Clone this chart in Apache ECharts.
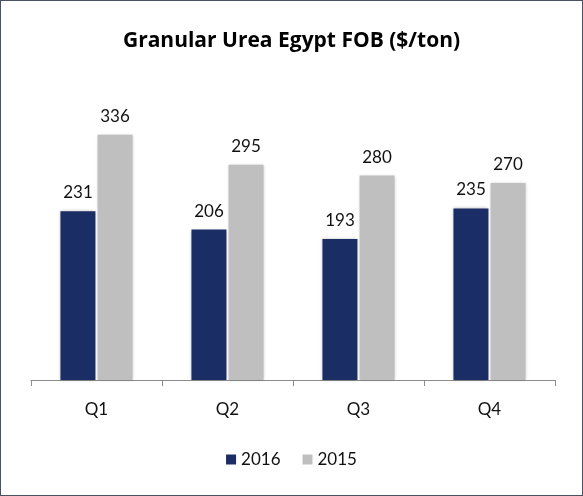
<!DOCTYPE html>
<html>
<head>
<meta charset="utf-8">
<script src="https://cdn.jsdelivr.net/npm/echarts@6/dist/echarts.min.js"></script>
<style>
	html, body { margin: 0; padding: 0; background: #fff; }
	#echart { width: 581px; height: 494px; border: 1px solid #4b5262; }
</style>
</head>
<body>
<div id="echart"></div>
<script>
let quarters = ['Q1', 'Q2', 'Q3', 'Q4'];
let values2016 = [231, 206, 193, 235];
let values2015 = [336, 295, 280, 270];

function drawChart() {
	let myChart = echarts.init(document.getElementById("echart"));
	let labelStyle = {
		show: true,
		position: 'top',
		distance: 10,
		fontSize: 17,
		color: '#111',
		fontFamily: 'Lato'
	};
	let option = {
		animation: false,
		title: {
			text: 'Granular Urea Egypt FOB ($/ton)',
			left: 'center',
			top: 25,
			textStyle: {
				fontFamily: 'Open Sans',
				fontWeight: 'bold',
				fontSize: 21,
				color: '#000'
			}
		},
		legend: {
			data: ['2016', '2015'],
			bottom: 22,
			left: 'center',
			icon: 'rect',
			itemWidth: 10,
			itemHeight: 10,
			itemGap: 22,
			textStyle: { fontSize: 17, color: '#111', fontFamily: 'Lato' }
		},
		grid: {
			left: 30,
			right: 27,
			top: 87,
			bottom: 115
		},
		xAxis: {
			type: 'category',
			data: quarters,
			axisLine: { lineStyle: { color: '#8c8c8c', width: 1 } },
			axisTick: { show: true, length: 6, lineStyle: { color: '#8c8c8c' } },
			axisLabel: { fontSize: 17, color: '#111', margin: 21, fontFamily: 'Lato' }
		},
		yAxis: {
			type: 'value',
			min: 0,
			max: 400,
			show: false,
			splitLine: { show: false }
		},
		series: [
			{
				name: '2016',
				type: 'bar',
				data: values2016,
				barWidth: 35,
				barGap: '6%',
				itemStyle: {
					color: '#1a2d64',
					shadowBlur: 3,
					shadowColor: 'rgba(0,0,0,0.25)'
				},
				label: labelStyle
			},
			{
				name: '2015',
				type: 'bar',
				data: values2015,
				barWidth: 35,
				itemStyle: {
					color: '#bfbfbf',
					shadowBlur: 3,
					shadowColor: 'rgba(0,0,0,0.25)'
				},
				label: labelStyle
			}
		]
	};
	myChart.setOption(option);
}

drawChart();
</script>
</body>
</html>
